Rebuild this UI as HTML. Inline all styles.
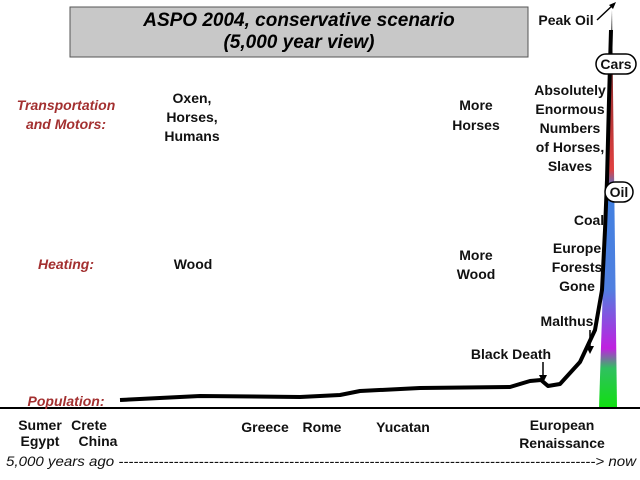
<!DOCTYPE html>
<html><head><meta charset="utf-8"><style>
body{margin:0;background:#fff}
svg{display:block;font-family:"Liberation Sans",Arial,sans-serif;font-weight:bold}
.t{font-size:14px;fill:#111}
.r{font-size:14px;fill:#a33030;font-style:italic}
</style></head><body>
<svg width="640" height="480" viewBox="0 0 640 480">
<defs>
<linearGradient id="sp" x1="0" y1="1" x2="0" y2="0">
<stop offset="0" stop-color="#10e010"/><stop offset="0.1" stop-color="#30c060"/>
<stop offset="0.15" stop-color="#c020e0"/><stop offset="0.3" stop-color="#5080e0"/>
<stop offset="0.55" stop-color="#4080e0"/><stop offset="0.6" stop-color="#e04040"/>
<stop offset="0.8" stop-color="#a03030"/><stop offset="0.9" stop-color="#222"/>
<stop offset="1" stop-color="#000"/></linearGradient>
</defs>
<rect x="70" y="7" width="458" height="50" fill="#c8c8c8" stroke="#555"/>
<text x="299" y="26" text-anchor="middle" font-size="19" font-style="italic">ASPO 2004, conservative scenario</text>
<text x="299" y="48" text-anchor="middle" font-size="19" font-style="italic">(5,000 year view)</text>
<text x="566" y="25" text-anchor="middle" class="t">Peak Oil</text>
<line x1="597" y1="20" x2="614" y2="4" stroke="#000" stroke-width="1.5"/>
<polygon points="616,2 609,5 613,9" fill="#000"/>
<polygon points="599,408 617,408 612,10" fill="url(#sp)"/>
<line x1="0" y1="408" x2="640" y2="408" stroke="#000" stroke-width="2"/>
<path id="pop" fill="none" stroke="#000" stroke-width="4" stroke-linejoin="round"/>
<rect x="596" y="54" width="40" height="20" rx="10" fill="#fff" stroke="#000" stroke-width="1.5"/>
<text x="616" y="69" text-anchor="middle" class="t">Cars</text>
<rect x="605" y="182" width="28" height="20" rx="10" fill="#fff" stroke="#000" stroke-width="1.5"/>
<text x="619" y="197" text-anchor="middle" class="t">Oil</text>
<g class="r" text-anchor="middle">
<text x="66" y="110">Transportation</text>
<text x="66" y="129">and Motors:</text>
<text x="66" y="269">Heating:</text>
<text x="66" y="406">Population:</text>
</g>
<g class="t" text-anchor="middle">
<text x="192" y="103">Oxen,</text><text x="192" y="122">Horses,</text><text x="192" y="141">Humans</text>
<text x="476" y="110">More</text><text x="476" y="130">Horses</text>
<text x="570" y="95">Absolutely</text><text x="570" y="114">Enormous</text><text x="570" y="133">Numbers</text><text x="570" y="152">of Horses,</text><text x="570" y="171">Slaves</text>
<text x="589" y="225">Coal</text>
<text x="193" y="269">Wood</text>
<text x="476" y="260">More</text><text x="476" y="279">Wood</text>
<text x="577" y="253">Europe</text><text x="577" y="272">Forests</text><text x="577" y="291">Gone</text>
<text x="567" y="326">Malthus</text>
<text x="511" y="359">Black Death</text>
<text x="40" y="430">Sumer</text><text x="89" y="430">Crete</text>
<text x="40" y="446">Egypt</text><text x="98" y="446">China</text>
<text x="265" y="432">Greece</text><text x="322" y="432">Rome</text>
<text x="403" y="432">Yucatan</text>
<text x="562" y="430">European</text><text x="562" y="448">Renaissance</text>
</g>
<line x1="590" y1="330" x2="590" y2="350" stroke="#000" stroke-width="1.5"/><polygon points="586,346 594,346 590,354" fill="#000"/>
<line x1="543" y1="362" x2="543" y2="379" stroke="#000" stroke-width="1.5"/><polygon points="539,375 547,375 543,383" fill="#000"/>
<text x="6" y="466" font-size="14" font-weight="normal" font-style="italic" fill="#111" textLength="630" lengthAdjust="spacingAndGlyphs">5,000 years ago -----------------------------------------------------------------------------------------------&gt; now</text>
</svg>
<script>
const years=[0,816,1837,2245,2449,3061,3980,4184,4296,4367,4490,4694,4847,4918,4949,4969,4990,5010];
const pop=[8,12,11,13,17,20,21,27,28,22,24,46,78,118,178,228,308,378];
const X=t=>120+t/5000*490, Y=v=>408-v;
let d=years.map((t,i)=>(i?'L':'M')+X(t).toFixed(1)+','+Y(pop[i]).toFixed(1)).join(' ');
document.getElementById('pop').setAttribute('d',d);
</script>
</body></html>
